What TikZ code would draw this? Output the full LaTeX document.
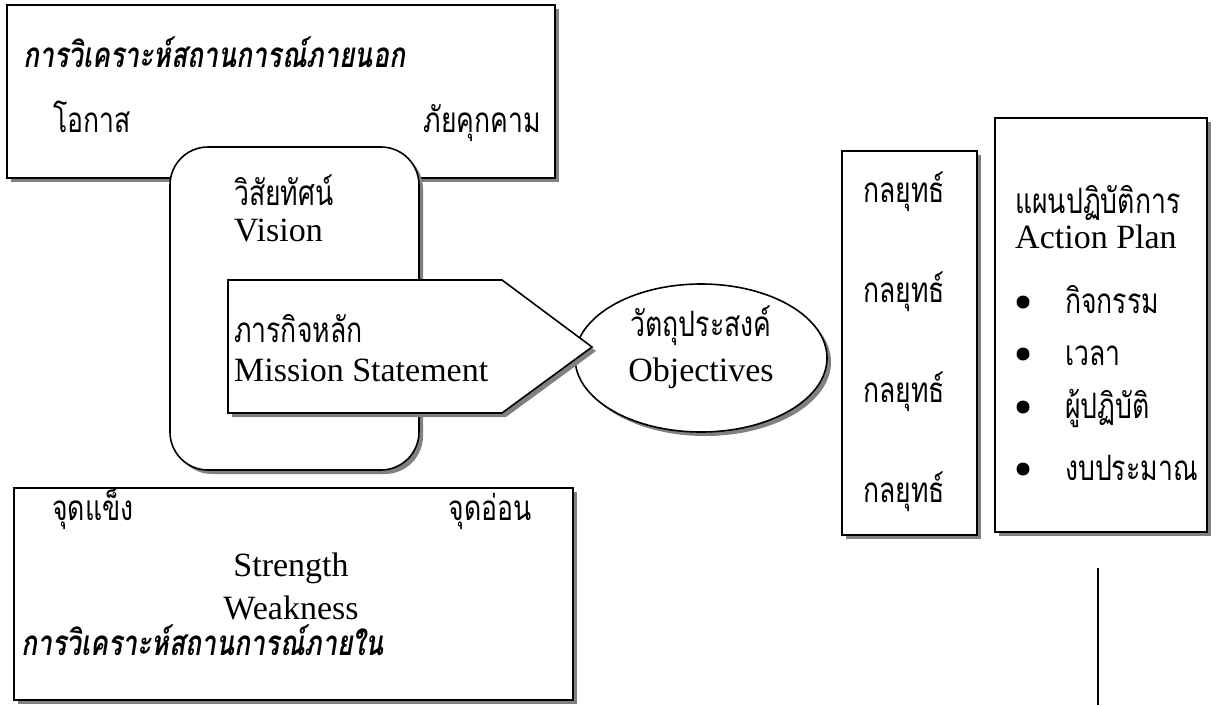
\documentclass[tikz,border=0pt]{standalone}
\usepackage{fontspec}
\setmainfont{Liberation Serif}
\newfontfamily\thai[Script=Thai,FakeStretch=0.76]{Loma}
\usetikzlibrary{shadows,shapes.geometric}

\begin{document}
\begin{tikzpicture}[x=1pt,y=-1pt,
  shade/.style={drop shadow={shadow xshift=4pt,shadow yshift=-4pt,fill=black!50,opacity=1}},
  panel/.style={draw=black,line width=1.6pt,fill=white,shade,inner sep=0pt},
  th/.style={font=\thai\fontsize{35}{40}\selectfont,inner sep=0pt},
  thtitle/.style={font=\thai\bfseries\itshape\fontsize{35}{40}\selectfont,inner sep=0pt},
  en/.style={font=\fontsize{34}{38}\selectfont,inner sep=0pt},
  dot/.style={circle,fill=black,inner sep=0pt,minimum size=13pt},
]
\useasboundingbox (0,0) rectangle (1216,705);

% external analysis
\node[panel,minimum width=548pt,minimum height=173pt] (ext) at (281,91.5) {};
\node[thtitle,anchor=base west] (extT) at (23,67) {การวิเคราะห์สถานการณ์ภายนอก};
\node[th,anchor=base west] (opp) at (53,132) {โอกาส};
\node[th,anchor=base east] (thr) at (541,132) {ภัยคุกคาม};

% internal analysis
\node[panel,minimum width=559pt,minimum height=212pt] (int) at (293.5,594) {};
\node[th,anchor=base west] (stT) at (52,520) {จุดแข็ง};
\node[th,anchor=base east] (wkT) at (532,520) {จุดอ่อน};
\node[en,anchor=base] (stE) at (291,576) {Strength};
\node[en,anchor=base] (wkE) at (291,619) {Weakness};
\node[thtitle,anchor=base west] (intT) at (21,655) {การวิเคราะห์สถานการณ์ภายใน};

% vision
\node[panel,rounded corners=38pt,minimum width=249pt,minimum height=323pt] (core) at (294.5,308.5) {};
\node[th,anchor=base west] (visT) at (234,205) {วิสัยทัศน์};
\node[en,anchor=base west] (visE) at (234,241) {Vision};

% objectives
\node[panel,ellipse,minimum width=252pt,minimum height=148pt] (obj) at (701,358) {};
\node[th,anchor=base] (objT) at (701,336) {วัตถุประสงค์};
\node[en,anchor=base] (objE) at (701,381) {Objectives};

% mission arrow
\coordinate (m1) at (228,280);
\coordinate (m2) at (502,280);
\coordinate (m3) at (592,347);
\coordinate (m4) at (502,413);
\coordinate (m5) at (228,413);
\draw[panel] (m1) -- (m2) -- (m3) -- (m4) -- (m5) -- cycle;
\node[th,anchor=base west] (misT) at (234,342) {ภารกิจหลัก};
\node[en,anchor=base west] (misE) at (234,381) {Mission Statement};

% strategies
\node[panel,minimum width=135pt,minimum height=384pt] (strat) at (909.5,343) {};
\foreach \y [count=\i] in {202,302,402,502}
  \node[th,anchor=base west] (s\i) at (863,\y) {กลยุทธ์};

% action plan
\node[panel,minimum width=212pt,minimum height=414pt] (plan) at (1101,325) {};
\node[th,anchor=base west] (planT) at (1015,213) {แผนปฏิบัติการ};
\node[en,anchor=base west] (planE) at (1015,248) {Action Plan};
\foreach \y/\t [count=\i] in {313/กิจกรรม,365/เวลา,418/ผู้ปฏิบัติ,480/งบประมาณ}{
  \node[dot] (b\i) at (1023,\y-11) {};
  \node[th,anchor=base west] (p\i) at (1065,\y) {\t};
}

% rule
\coordinate (lt) at (1098,568);
\coordinate (lb) at (1098,705);
\draw[line width=2.4pt] (lt) -- (lb);
\end{tikzpicture}
\end{document}
